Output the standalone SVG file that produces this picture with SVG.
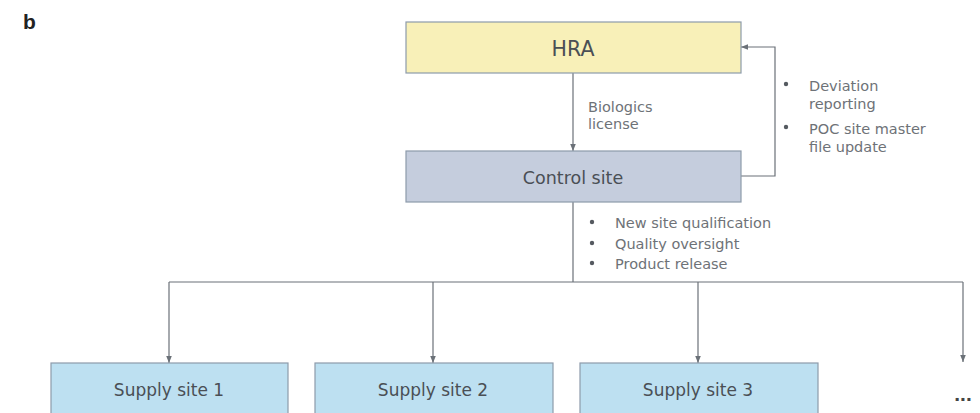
<svg xmlns="http://www.w3.org/2000/svg" width="980" height="413" viewBox="0 0 980 413">
<defs>
<marker id="ah" viewBox="0 0 10 10" refX="10" refY="5" markerWidth="7" markerHeight="7" orient="auto" markerUnits="userSpaceOnUse">
<path d="M0,1 L10,5 L0,9 Z" fill="#6b7178"/>
</marker>
<style>
.box{stroke:#8d9bab;stroke-width:1.2}
.lbl{font-family:"DejaVu Sans","Liberation Sans",sans-serif;fill:#4a4f55;text-anchor:middle}
.sm{font-family:"DejaVu Sans","Liberation Sans",sans-serif;fill:#6e7277;font-size:14.5px}
.ln{fill:none;stroke:#6b7178;stroke-width:1.2}
.dot{fill:#555a60}
</style>
</defs>
<rect width="980" height="413" fill="#ffffff"/>
<text x="23" y="29" font-family="Liberation Sans,Arial,sans-serif" font-weight="bold" font-size="21" fill="#222">b</text>
<g id="connectors">
<line class="ln" x1="573" y1="73" x2="573" y2="151" marker-end="url(#ah)"/>
<polyline class="ln" points="741,176 775,176 775,47 741,47" marker-end="url(#ah)"/>
<line class="ln" x1="573" y1="202" x2="573" y2="282"/>
<line class="ln" x1="169" y1="282" x2="963" y2="282"/>
<line class="ln" x1="169" y1="282" x2="169" y2="363" marker-end="url(#ah)"/>
<line class="ln" x1="433" y1="282" x2="433" y2="363" marker-end="url(#ah)"/>
<line class="ln" x1="698" y1="282" x2="698" y2="363" marker-end="url(#ah)"/>
<line class="ln" x1="963" y1="282" x2="963" y2="362" marker-end="url(#ah)"/>
<text class="sm" x="588" y="112">Biologics</text>
<text class="sm" x="588" y="129">license</text>
<g>
<circle class="dot" cx="786" cy="84" r="2.2"/>
<text class="sm" x="809" y="91">Deviation</text>
<text class="sm" x="809" y="109">reporting</text>
<circle class="dot" cx="786" cy="127" r="2.2"/>
<text class="sm" x="809" y="134">POC site master</text>
<text class="sm" x="809" y="152">file update</text>
</g>
<g>
<circle class="dot" cx="592" cy="222" r="2.2"/>
<text class="sm" x="615" y="228">New site qualification</text>
<circle class="dot" cx="592" cy="243" r="2.2"/>
<text class="sm" x="615" y="249">Quality oversight</text>
<circle class="dot" cx="592" cy="263" r="2.2"/>
<text class="sm" x="615" y="269">Product release</text>
</g>
</g>
<g id="hra">
<rect class="box" x="406" y="22" width="335" height="51" fill="#f8f0b8"/>
<text class="lbl" x="573" y="55.5" font-size="20.5">HRA</text>
</g>
<g id="control">
<rect class="box" x="406" y="151" width="335" height="51" fill="#c5cddd"/>
<text class="lbl" x="573" y="184" font-size="17.5">Control site</text>
</g>
<g id="supply1">
<rect class="box" x="51" y="363" width="237" height="60" fill="#bde0f1"/>
<text class="lbl" x="169" y="396" font-size="17">Supply site 1</text>
</g>
<g id="supply2">
<rect class="box" x="315" y="363" width="238" height="60" fill="#bde0f1"/>
<text class="lbl" x="433" y="396" font-size="17">Supply site 2</text>
</g>
<g id="supply3">
<rect class="box" x="580" y="363" width="238" height="60" fill="#bde0f1"/>
<text class="lbl" x="698" y="396" font-size="17">Supply site 3</text>
</g>
<g id="more">
<text x="963" y="401" font-family="Liberation Sans,Arial,sans-serif" font-size="21" font-weight="bold" fill="#444" text-anchor="middle">...</text>
</g>
</svg>
